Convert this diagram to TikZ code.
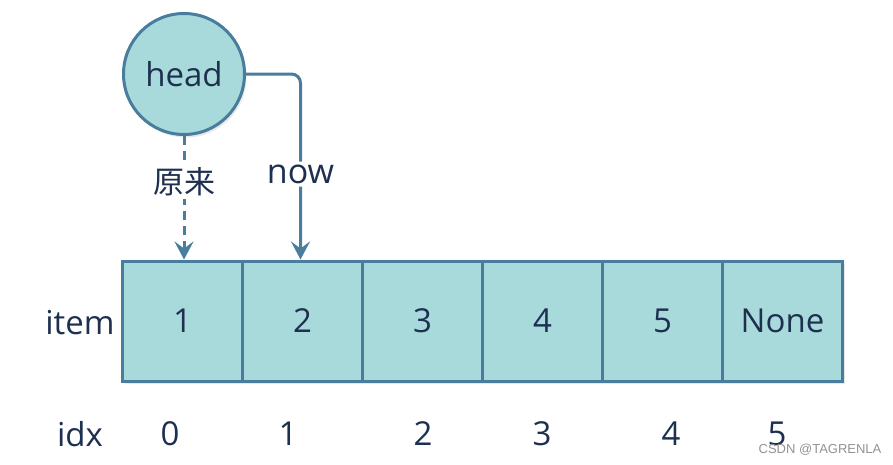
\documentclass[tikz,border=0pt]{standalone}
\usepackage{fontspec}
\setmainfont{Open Sans}
\newfontfamily\cjkfont{Noto Sans CJK SC}
\newfontfamily\wmfont{Liberation Sans}
\usetikzlibrary{arrows.meta,shadows}
\definecolor{cellfill}{RGB}{168,218,220}
\definecolor{edgeblue}{RGB}{72,125,158}
\definecolor{inkblue}{RGB}{30,48,80}
\tikzset{
  txt/.style={text=inkblue,font=\fontsize{33}{36}\selectfont,inner sep=0pt},
  cellbox/.style={draw=edgeblue,fill=cellfill,line width=3pt,minimum width=120pt,minimum height=120pt,inner sep=0pt,
    drop shadow={opacity=0.18,shadow xshift=2pt,shadow yshift=-3pt},txt},
  headnode/.style={circle,draw=edgeblue,fill=cellfill,line width=3pt,minimum size=121pt,inner sep=0pt,
    drop shadow={opacity=0.18,shadow xshift=2pt,shadow yshift=-3pt},txt},
  conn/.style={draw=edgeblue,line width=3pt,-{Stealth[length=18pt,width=19pt,inset=7pt]}},
  lbl/.style={fill=white,txt,inner xsep=2pt,inner ysep=3pt}
}
\begin{document}
\begin{tikzpicture}[x=1pt,y=-1pt]
\useasboundingbox[fill=white] (0,0) rectangle (893,464);
\node[headnode] (head) at (184,74) {head};
\foreach \i/\t in {0/1,1/2,2/3,3/4,4/5,5/None}{
  \node[cellbox] (c\i) at (182.5+120*\i,321) {\t};
}
\draw[conn,dash pattern=on 9pt off 6pt] (head.south) -- (head.south |- c0.north)
  node[lbl,pos=0.37,font=\cjkfont\fontsize{31}{34}\selectfont] (l0) {原来};
\draw[conn,rounded corners=9pt] (head.east) -| ([xshift=-2pt]c1.north)
  node[lbl,pos=0.77,font=\fontsize{34}{36}\selectfont] (l1) {now};
\node[txt] (item) at (80,323) {item};
\node[txt] (idx) at (80,434) {idx};
\foreach \i/\x in {0/170,1/288,2/423,3/542,4/671,5/777}{
  \node[txt] (n\i) at (\x,434) {\i};
}
\node[text=gray!85,font=\wmfont\fontsize{13}{15}\selectfont,inner sep=0pt] (wm) at (820,450) {CSDN @TAGRENLA};
\end{tikzpicture}
\end{document}
